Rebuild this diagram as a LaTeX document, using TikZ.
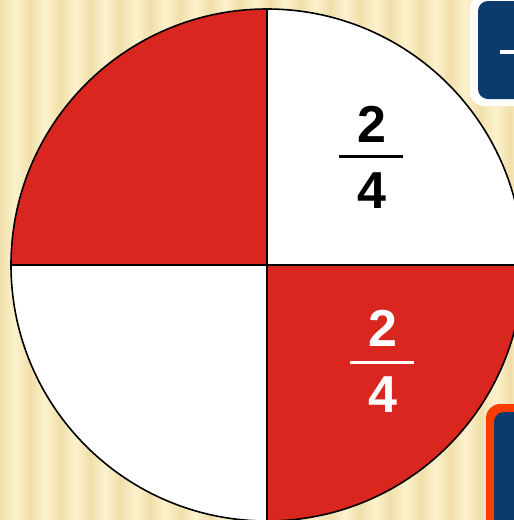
\documentclass[tikz,border=0pt]{standalone}
\usepackage{fontspec}
\setmainfont{Liberation Sans}
\begin{document}
\begin{tikzpicture}[x=1pt,y=-1pt,
  frac/.style={font=\fontsize{52}{52}\selectfont\bfseries, inner sep=0pt},
  bar/.style={line width=3pt}]
\definecolor{qred}{HTML}{D9261E}
\definecolor{bgA}{HTML}{FCF1CB}
\definecolor{bgB}{HTML}{F0DFAA}
\definecolor{navy}{HTML}{0B3A6C}
\definecolor{orng}{HTML}{FF3B00}
\useasboundingbox (0,0) rectangle (514,520);
\clip (0,0) rectangle (514,520);
\fill[bgA] (0,0) rectangle (514,520);
\foreach \i in {0,...,18}{
  \shade[left color=bgA,right color=bgA,middle color=bgB] (\i*30-14,0) rectangle (\i*30+14,520);
}
% boxes at right
\fill[white, rounded corners=14pt] (470,-6) rectangle (540,106);
\fill[navy, rounded corners=10pt] (478,1) rectangle (540,99);
\fill[white] (500,50) rectangle (514,54);
\fill[orng, rounded corners=14pt] (486,404) rectangle (540,540);
\fill[navy, rounded corners=10pt] (494,412) rectangle (540,540);
% circle
\coordinate (c) at (267,265);
\fill[qred] (c) -- (11,265) arc[start angle=180, end angle=270, radius=256] -- cycle;
\fill[white] (c) -- (267,9) arc[start angle=270, end angle=360, radius=256] -- cycle;
\fill[white] (c) -- (11,265) arc[start angle=180, end angle=90, radius=256] -- cycle;
\fill[qred] (c) -- (523,265) arc[start angle=0, end angle=90, radius=256] -- cycle;
\draw[line width=1.6pt] (c) circle[radius=256];
\draw[line width=1.6pt] (11,265) -- (523,265);
\draw[line width=1.6pt] (267,9) -- (267,521);
% fractions
\node[frac] (n1) at (372,124) {2};
\draw[bar] (339,156) -- (403,156);
\node[frac] (d1) at (372,191) {4};
\node[frac, text=white] (n2) at (383,328) {2};
\draw[bar, white] (350,362) -- (414,362);
\node[frac, text=white] (d2) at (383,395) {4};
\end{tikzpicture}
\end{document}
